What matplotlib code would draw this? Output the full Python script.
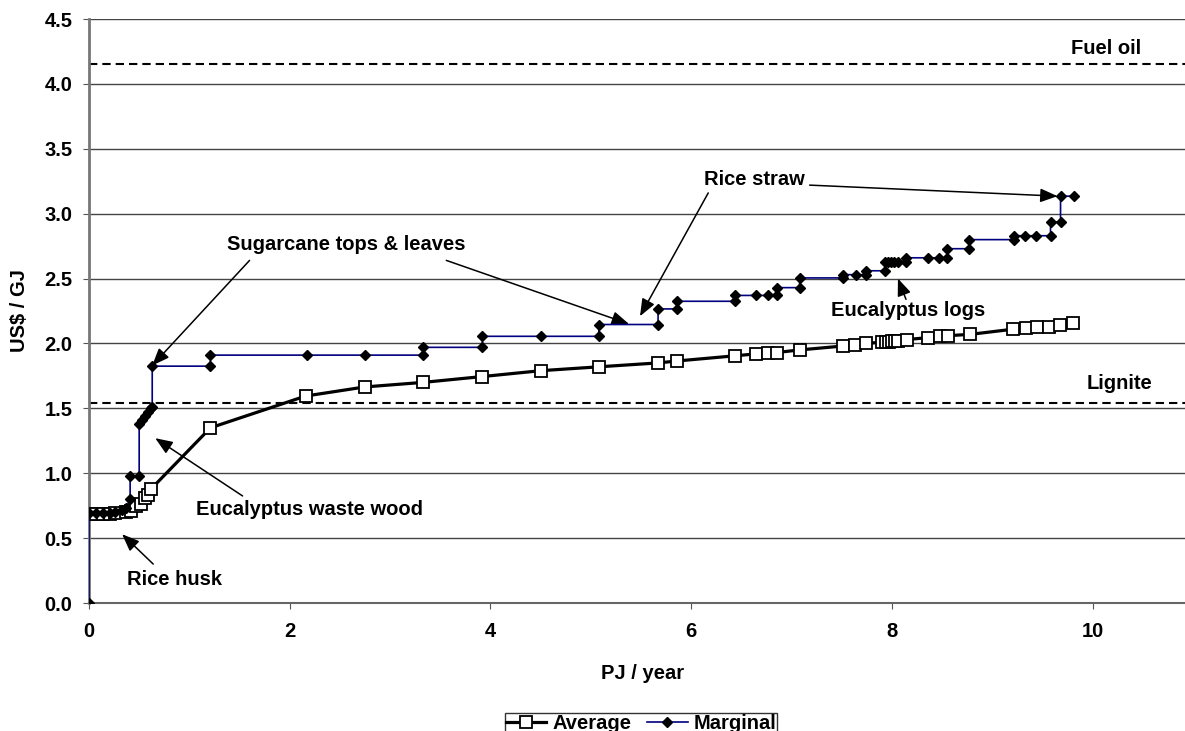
import matplotlib
matplotlib.use('Agg')
import matplotlib.pyplot as plt

plt.rcParams['font.family'] = ['Liberation Sans', 'DejaVu Sans']
plt.rcParams['font.weight'] = 'bold'

# Average cost curve (PJ/year, US$/GJ)
x_avg = [0, 0.07, 0.14, 0.21, 0.26, 0.37, 0.42, 0.47, 0.52, 0.56, 0.59, 0.62,
         1.21, 2.16, 2.75, 3.33, 3.92, 4.50, 5.08, 5.67, 5.86, 6.44, 6.65, 6.77,
         6.85, 7.08, 7.51, 7.63, 7.74, 7.90, 7.94, 7.97, 8.00, 8.03, 8.06, 8.15,
         8.36, 8.48, 8.56, 8.78, 9.21, 9.34, 9.45, 9.56, 9.67, 9.80]
y_avg = [0.685, 0.685, 0.685, 0.685, 0.69, 0.70, 0.71, 0.75, 0.76, 0.81, 0.83, 0.88,
         1.35, 1.595, 1.665, 1.70, 1.745, 1.79, 1.82, 1.85, 1.865, 1.905, 1.92, 1.925,
         1.93, 1.95, 1.98, 1.99, 2.00, 2.01, 2.012, 2.015, 2.018, 2.02, 2.022, 2.03,
         2.045, 2.055, 2.06, 2.07, 2.11, 2.12, 2.125, 2.13, 2.14, 2.16]

# Marginal cost curve (step points)
x_marg = [0, 0, 0.07, 0.14, 0.21, 0.26, 0.33, 0.37, 0.41, 0.41, 0.50, 0.50, 0.53,
          0.56, 0.59, 0.62, 0.63, 0.63, 1.21, 1.21, 2.17, 2.75, 3.33, 3.33, 3.92,
          3.92, 4.50, 5.08, 5.08, 5.67, 5.67, 5.86, 5.86, 6.44, 6.44, 6.65, 6.77,
          6.85, 6.85, 7.08, 7.08, 7.51, 7.51, 7.64, 7.74, 7.74, 7.93, 7.93, 7.96,
          7.99, 8.02, 8.06, 8.14, 8.14, 8.36, 8.47, 8.55, 8.55, 8.77, 8.77, 9.22,
          9.22, 9.33, 9.44, 9.58, 9.58, 9.68, 9.68, 9.81]
y_marg = [0, 0.69, 0.69, 0.69, 0.69, 0.70, 0.72, 0.735, 0.80, 0.975, 0.975, 1.38, 1.41,
          1.44, 1.47, 1.50, 1.51, 1.825, 1.825, 1.91, 1.91, 1.91, 1.91, 1.97, 1.97,
          2.055, 2.055, 2.055, 2.146, 2.146, 2.266, 2.266, 2.325, 2.325, 2.37, 2.37, 2.37,
          2.37, 2.43, 2.43, 2.505, 2.505, 2.53, 2.53, 2.53, 2.56, 2.56, 2.63, 2.63,
          2.63, 2.63, 2.63, 2.63, 2.66, 2.66, 2.66, 2.66, 2.73, 2.73, 2.80, 2.80,
          2.83, 2.83, 2.83, 2.83, 2.935, 2.935, 3.135, 3.135]

fuel_oil = 4.15
lignite = 1.54

y_ticks = [0.0, 0.5, 1.0, 1.5, 2.0, 2.5, 3.0, 3.5, 4.0, 4.5]
x_ticks = [0, 2, 4, 6, 8, 10]

# labels: text, (x, y)
labels = [('Fuel oil', 10.13, 4.27),
          ('Lignite', 10.27, 1.69),
          ('Sugarcane tops & leaves', 2.56, 2.76),
          ('Rice straw', 6.63, 3.26),
          ('Eucalyptus logs', 8.16, 2.255),
          ('Eucalyptus waste wood', 2.20, 0.72),
          ('Rice husk', 0.85, 0.18)]
# arrows: tail -> tip
arrows = [((1.60, 2.64), (0.63, 1.83)),
          ((3.56, 2.64), (5.38, 2.15)),
          ((6.17, 3.16), (5.49, 2.21)),
          ((7.18, 3.22), (9.65, 3.135)),
          ((8.14, 2.34), (8.06, 2.50)),
          ((1.53, 0.825), (0.66, 1.27)),
          ((0.64, 0.30), (0.33, 0.53))]

fig = plt.figure(figsize=(11.85, 7.31), dpi=100)
ax = fig.add_axes([0.0751, 0.1751, 0.9249, 0.7989])

ax.set_xlim(0, 10.92)
ax.set_ylim(0, 4.5)
ax.set_yticks(y_ticks)
ax.set_xticks(x_ticks)
ax.set_yticklabels(['%.1f' % v for v in y_ticks])
ax.tick_params(axis='both', labelsize=14.5, direction='out', length=4, color='#555555')
ax.tick_params(axis='y', pad=8)
ax.tick_params(axis='x', pad=10)
for lab in ax.get_xticklabels() + ax.get_yticklabels():
    lab.set_fontweight('bold')

ax.yaxis.grid(True, color='#444444', lw=1.0)
ax.set_axisbelow(True)
for s in ['top', 'right']:
    ax.spines[s].set_visible(False)
ax.spines['left'].set_color('#777777')
ax.spines['left'].set_linewidth(2)
ax.spines['bottom'].set_color('#666666')
ax.spines['bottom'].set_linewidth(1.5)

ax.axhline(fuel_oil, color='black', lw=1.5, dashes=(4, 2.4))
ax.axhline(lignite, color='black', lw=1.5, dashes=(4, 2.4))

ax.plot(x_avg, y_avg, color='black', lw=2.3, marker='s', markersize=8.5,
        markerfacecolor='white', markeredgecolor='black', markeredgewidth=1.3,
        label='Average', zorder=3)
ax.plot(x_marg, y_marg, color='#000080', lw=1.2, marker='D', markersize=5.5,
        markerfacecolor='black', markeredgecolor='black', label='Marginal', zorder=4)

for txt, tx, ty in labels:
    ax.text(tx, ty, txt, fontsize=14.5, fontweight='bold', ha='center', va='center')

for tail, tip in arrows:
    ax.annotate('', xy=tip, xytext=tail,
                arrowprops=dict(arrowstyle='-|>,head_length=0.75,head_width=0.3',
                                mutation_scale=14, lw=1.1, color='black',
                                shrinkA=0, shrinkB=0))

ax.set_xlabel('PJ / year', fontsize=14.5, fontweight='bold')
ax.xaxis.set_label_coords(0.505, -0.105)
ax.set_ylabel('US$ / GJ', fontsize=14.5, fontweight='bold')
ax.yaxis.set_label_coords(-0.055, 0.5)

leg = fig.legend(loc='lower center', bbox_to_anchor=(0.541, -0.004), ncol=2,
                 fontsize=14.5, frameon=True, fancybox=False, edgecolor='black',
                 borderpad=0.05, borderaxespad=0.0, handlelength=2.0,
                 columnspacing=0.8, handletextpad=0.3)
leg.get_frame().set_linewidth(1.0)
for t in leg.get_texts():
    t.set_fontweight('bold')

fig.savefig('out.png', dpi=100)
